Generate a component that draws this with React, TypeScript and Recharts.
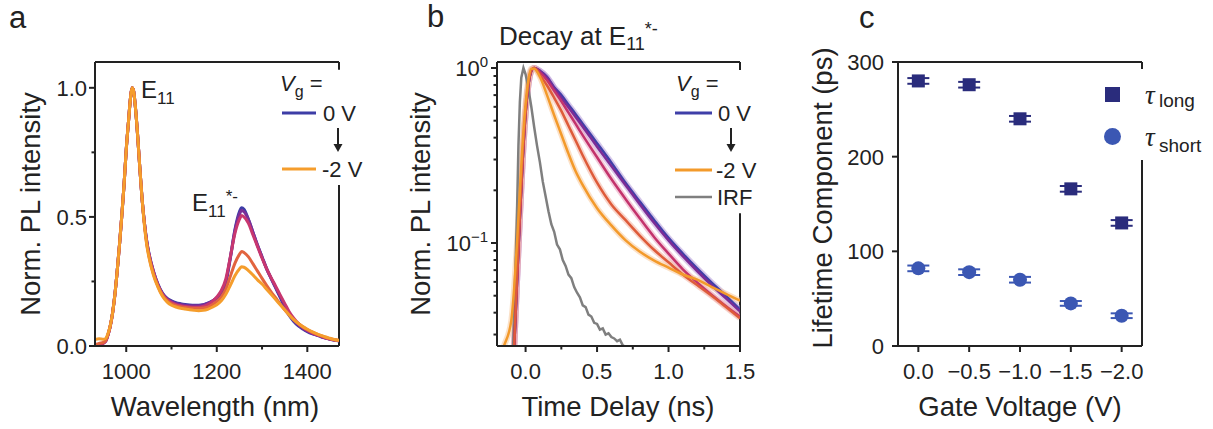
import React from 'react';
import {
  LineChart, Line, XAxis, YAxis, ReferenceLine,
  ScatterChart, Scatter, ErrorBar,
} from 'recharts';

const FONT = '"Liberation Sans", Arial, Helvetica, sans-serif';
const SERIF = '"Liberation Serif", "DejaVu Serif", serif';
const INK = '#222';

/* ---------- panel a: PL spectra ---------- */
const wavelength = [
  930, 940, 950, 955, 960, 965, 970, 975, 980, 985, 990, 995, 1000, 1005, 1010, 1013, 1016, 1020, 1025, 1030, 1035, 1040, 1045, 1050,
  1060, 1070, 1080, 1090, 1100, 1110, 1120, 1130, 1140, 1150, 1160, 1170, 1180, 1190, 1200, 1210, 1220, 1230, 1240,
  1250, 1255, 1260,
  1270, 1280, 1290, 1300, 1310, 1320, 1330, 1340, 1350, 1360, 1370, 1380, 1390, 1400, 1410, 1420, 1430, 1440, 1450, 1460, 1470,
];
const spec0V = [
  0.0, 0.004, 0.012, 0.02, 0.045, 0.08, 0.13, 0.2, 0.29, 0.39, 0.5, 0.62, 0.76, 0.87, 0.97, 1.0, 0.99, 0.93, 0.82, 0.69, 0.57, 0.48, 0.41, 0.36,
  0.29, 0.24, 0.205, 0.185, 0.175, 0.168, 0.164, 0.161, 0.159, 0.158, 0.158, 0.16, 0.166, 0.174, 0.185, 0.2, 0.245, 0.34, 0.45,
  0.52, 0.535, 0.53,
  0.49, 0.44, 0.39, 0.345, 0.3, 0.262, 0.225, 0.188, 0.15, 0.118, 0.095, 0.078, 0.066, 0.056, 0.048, 0.042, 0.036, 0.031, 0.026, 0.022, 0.019,
];
const specM05 = [
  0.0, 0.004, 0.012, 0.02, 0.045, 0.08, 0.13, 0.2, 0.29, 0.39, 0.5, 0.62, 0.76, 0.87, 0.97, 1.0, 0.99, 0.93, 0.82, 0.69, 0.57, 0.48, 0.41, 0.36,
  0.29, 0.238, 0.203, 0.183, 0.172, 0.165, 0.161, 0.158, 0.156, 0.156, 0.156, 0.159, 0.165, 0.174, 0.187, 0.21, 0.25, 0.345, 0.445,
  0.51, 0.525, 0.52,
  0.49, 0.44, 0.39, 0.345, 0.3, 0.262, 0.228, 0.193, 0.158, 0.125, 0.1, 0.082, 0.069, 0.058, 0.05, 0.043, 0.037, 0.031, 0.027, 0.023, 0.02,
];
const specM1 = [
  0.0, 0.003, 0.011, 0.02, 0.044, 0.079, 0.13, 0.2, 0.29, 0.39, 0.5, 0.62, 0.76, 0.87, 0.97, 1.0, 0.99, 0.93, 0.82, 0.69, 0.57, 0.48, 0.405, 0.355,
  0.285, 0.235, 0.2, 0.18, 0.168, 0.16, 0.156, 0.153, 0.151, 0.15, 0.15, 0.153, 0.16, 0.172, 0.19, 0.215, 0.26, 0.345, 0.435,
  0.49, 0.505, 0.5,
  0.475, 0.43, 0.385, 0.34, 0.3, 0.265, 0.232, 0.198, 0.165, 0.133, 0.108, 0.088, 0.073, 0.061, 0.052, 0.044, 0.038, 0.032, 0.027, 0.023, 0.02,
];
const specM15 = [
  0.005, 0.01, 0.014, 0.022, 0.046, 0.08, 0.13, 0.2, 0.29, 0.39, 0.5, 0.62, 0.76, 0.87, 0.97, 1.0, 0.99, 0.93, 0.82, 0.69, 0.57, 0.475, 0.4, 0.35,
  0.28, 0.232, 0.197, 0.176, 0.163, 0.156, 0.152, 0.149, 0.147, 0.146, 0.146, 0.147, 0.15, 0.16, 0.172, 0.19, 0.22, 0.27, 0.32,
  0.355, 0.366, 0.362,
  0.345, 0.318, 0.29, 0.262, 0.235, 0.21, 0.187, 0.163, 0.14, 0.12, 0.102, 0.087, 0.075, 0.064, 0.055, 0.047, 0.04, 0.034, 0.029, 0.024, 0.021,
];
const specM2 = [
  0.025, 0.028, 0.026, 0.03, 0.05, 0.082, 0.13, 0.2, 0.29, 0.39, 0.5, 0.62, 0.76, 0.87, 0.97, 1.0, 0.99, 0.93, 0.82, 0.69, 0.57, 0.47, 0.395, 0.345,
  0.275, 0.228, 0.193, 0.171, 0.158, 0.151, 0.146, 0.143, 0.14, 0.138, 0.137, 0.138, 0.142, 0.15, 0.16, 0.175, 0.2, 0.235, 0.272,
  0.298, 0.307, 0.305,
  0.292, 0.275, 0.256, 0.24, 0.22, 0.2, 0.18, 0.16, 0.14, 0.12, 0.102, 0.087, 0.075, 0.065, 0.056, 0.048, 0.041, 0.035, 0.03, 0.025, 0.022,
];

/* ---------- panel b: decay traces (fits) + IRF ---------- */
const tFit = [-0.2, -0.15, -0.1, -0.08, -0.06, -0.04, -0.02, 0, 0.02, 0.04, 0.06, 0.1, 0.15, 0.2, 0.25, 0.3, 0.35, 0.4, 0.5, 0.6, 0.7, 0.8, 0.9, 1.0, 1.1, 1.2, 1.3, 1.4, 1.5];
const decay0V = [0.01, 0.01, 0.012, 0.025, 0.06, 0.14, 0.3, 0.55, 0.8, 0.96, 1.0, 0.965, 0.89, 0.776, 0.7, 0.617, 0.545, 0.479, 0.372, 0.288, 0.22, 0.172, 0.135, 0.107, 0.087, 0.0716, 0.0596, 0.0501, 0.0417];
const decayM05 = [0.01, 0.01, 0.012, 0.025, 0.06, 0.14, 0.3, 0.55, 0.8, 0.96, 1.0, 0.962, 0.881, 0.767, 0.676, 0.596, 0.525, 0.462, 0.355, 0.275, 0.214, 0.166, 0.13, 0.1035, 0.0841, 0.0692, 0.0575, 0.0484, 0.0407];
const decayM1 = [0.01, 0.01, 0.012, 0.025, 0.06, 0.14, 0.3, 0.55, 0.8, 0.96, 1.0, 0.944, 0.851, 0.741, 0.646, 0.556, 0.479, 0.412, 0.309, 0.232, 0.178, 0.138, 0.108, 0.087, 0.0708, 0.0596, 0.0507, 0.0437, 0.038];
const decayM15 = [0.01, 0.01, 0.012, 0.026, 0.065, 0.15, 0.32, 0.57, 0.82, 0.97, 1.0, 0.912, 0.794, 0.676, 0.569, 0.468, 0.385, 0.316, 0.221, 0.166, 0.135, 0.11, 0.0912, 0.0776, 0.0661, 0.0575, 0.0501, 0.0432, 0.0372];
const decayM2 = [0.02, 0.026, 0.036, 0.055, 0.1, 0.2, 0.38, 0.62, 0.86, 0.99, 0.99, 0.891, 0.7, 0.537, 0.417, 0.324, 0.257, 0.214, 0.158, 0.126, 0.1035, 0.0891, 0.0794, 0.0724, 0.0661, 0.0617, 0.0562, 0.0513, 0.0468];
const tIrf = [
  -0.12, -0.1, -0.08, -0.06, -0.05, -0.04, -0.03, -0.015, 0, 0.02, 0.04, 0.06, 0.08, 0.1,
  0.12, 0.14, 0.16, 0.18, 0.2, 0.22, 0.24, 0.26, 0.28, 0.3, 0.32, 0.34, 0.36, 0.38, 0.4,
  0.42, 0.44, 0.46, 0.48, 0.5, 0.52, 0.54, 0.56, 0.58, 0.6, 0.62, 0.64, 0.66, 0.68, 0.7,
];
const irf = [
  0.005, 0.012, 0.04, 0.15, 0.36, 0.64, 0.88, 1.0, 0.92, 0.76, 0.6, 0.46, 0.36, 0.29,
  0.225, 0.185, 0.152, 0.128, 0.116, 0.098, 0.092, 0.08, 0.074, 0.066, 0.063, 0.056, 0.052, 0.049, 0.044,
  0.043, 0.039, 0.038, 0.035, 0.0345, 0.032, 0.0325, 0.03, 0.0305, 0.029, 0.0285, 0.0275, 0.028, 0.026, 0.0255,
];

/* ---------- panel c: lifetimes ---------- */
const gateVoltage = [0, -0.5, -1, -1.5, -2];
const tauLong = [280, 276, 240, 166, 130];
const tauLongErr = [3, 3, 3, 3, 3];
const tauShort = [82, 78, 70, 45, 32];
const tauShortErr = [3, 3, 3, 2.5, 2.5];

const SERIES_A = [
  { key: 'v0', color: '#3d3da6' },
  { key: 'v05', color: '#7a2e98' },
  { key: 'v1', color: '#c8376f' },
  { key: 'v15', color: '#e2643f' },
  { key: 'v2', color: '#f59d2c' },
];
const specRows = wavelength.map((w, i) => ({
  wl: w, v0: spec0V[i], v05: specM05[i], v1: specM1[i], v15: specM15[i], v2: specM2[i],
}));

const decaySeries = [
  { name: '0 V', vals: decay0V, color: '#3f3fa8', halo: '#b39ad8' },
  { name: '-0.5 V', vals: decayM05, color: '#7b2c96', halo: '#c39ad6' },
  { name: '-1 V', vals: decayM1, color: '#c3336c', halo: '#e9a0bc' },
  { name: '-1.5 V', vals: decayM15, color: '#de5b3a', halo: '#f3b09e' },
  { name: '-2 V', vals: decayM2, color: '#f39a2b', halo: '#f8c89a' },
];
const irfRows = tIrf.map((t, i) => ({ t, v: irf[i] }));

const longRows = gateVoltage.map((v, i) => ({ v, tau: tauLong[i], err: tauLongErr[i] }));
const shortRows = gateVoltage.map((v, i) => ({ v, tau: tauShort[i], err: tauShortErr[i] }));
const LONG_C = '#2a2c7c';
const SHORT_C = '#3b57b3';

const near = (list: number[], v: number) => list.some((m) => Math.abs(m - v) < 1e-9);

// tick renderer: draws its own tick line (long for major, short for minor) and a label for majors
const tickFactory = (side: 'left' | 'bottom', major: number[], fmt: (v: number) => React.ReactNode, gap: number) =>
  (p: any) => {
    const v = Number(p.payload.value);
    const isMajor = near(major, v);
    const len = isMajor ? 6 : 3.5;
    if (side === 'left') {
      return (
        <g>
          <line x1={p.x} x2={p.x - len} y1={p.y} y2={p.y} stroke={INK} strokeWidth={2} />
          {isMajor && (
            <text x={p.x - gap} y={p.y} dy={8} textAnchor="end" fontSize={22} fontFamily={FONT} fill={INK}>
              {fmt(v)}
            </text>
          )}
        </g>
      );
    }
    return (
      <g>
        <line x1={p.x} x2={p.x} y1={p.y} y2={p.y + len} stroke={INK} strokeWidth={2} />
        {isMajor && (
          <text x={p.x} y={p.y + 33} textAnchor="middle" fontSize={22} fontFamily={FONT} fill={INK}>
            {fmt(v)}
          </text>
        )}
      </g>
    );
  };

const minus = (s: string) => s.replace('-', '\u2212');
const logLabel = (v: number) => (
  <>
    <tspan>10</tspan>
    <tspan dy={-9} fontSize={15}>{v >= 1 ? '0' : '\u22121'}</tspan>
  </>
);

const axisLine = { stroke: INK, strokeWidth: 2 };

function PanelA() {
  return (
    <LineChart width={400} height={429} data={specRows} margin={{ top: 62, right: 61, bottom: 0, left: 0 }}>
      <XAxis
        dataKey="wl" type="number" domain={[931, 1470]} allowDataOverflow
        ticks={[1000, 1100, 1200, 1300, 1400]} interval={0} height={83}
        tickSize={0} tickMargin={0} tickLine={false} axisLine={axisLine}
        tick={tickFactory('bottom', [1000, 1200, 1400], (v) => String(v), 0)}
      />
      <YAxis
        type="number" domain={[0, 1.1]} allowDataOverflow
        ticks={[0, 0.25, 0.5, 0.75, 1]} interval={0} width={95}
        tickSize={0} tickMargin={0} tickLine={false} axisLine={axisLine}
        tick={tickFactory('left', [0, 0.5, 1], (v) => v.toFixed(1), 8)}
      />
      <ReferenceLine y={1.1} stroke={INK} strokeWidth={2} />
      <ReferenceLine segment={[{ x: 1470, y: 0 }, { x: 1470, y: 0.624 }]} stroke={INK} strokeWidth={2} />
      <ReferenceLine segment={[{ x: 1470, y: 1.07 }, { x: 1470, y: 1.1 }]} stroke={INK} strokeWidth={2} />
      {SERIES_A.map((s) => (
        <Line key={s.key} dataKey={s.key} type="monotone" stroke={s.color} strokeWidth={3}
          dot={false} isAnimationActive={false} />
      ))}
    </LineChart>
  );
}

function PanelB() {
  return (
    <LineChart width={400} height={429} margin={{ top: 62, right: 60, bottom: 0, left: 0 }}>
      <XAxis
        dataKey="t" type="number" domain={[-0.2, 1.5]} allowDataOverflow
        ticks={[0, 0.25, 0.5, 0.75, 1, 1.25, 1.5]} interval={0} height={83}
        tickSize={0} tickMargin={0} tickLine={false} axisLine={axisLine}
        tick={tickFactory('bottom', [0, 0.5, 1, 1.5], (v) => v.toFixed(1), 0)}
      />
      <YAxis
        dataKey="v" type="number" scale="log" domain={[0.0258, 1.082]} allowDataOverflow
        ticks={[0.03, 0.04, 0.05, 0.06, 0.07, 0.08, 0.09, 0.1, 0.2, 0.3, 0.4, 0.5, 0.6, 0.7, 0.8, 0.9, 1]}
        interval={0} width={97}
        tickSize={0} tickMargin={0} tickLine={false} axisLine={axisLine}
        tick={tickFactory('left', [0.1, 1], logLabel, 9)}
      />
      <ReferenceLine y={1.082} stroke={INK} strokeWidth={2} />
      <ReferenceLine segment={[{ x: 1.5, y: 0.0258 }, { x: 1.5, y: 0.148 }]} stroke={INK} strokeWidth={2} />
      <ReferenceLine segment={[{ x: 1.5, y: 0.974 }, { x: 1.5, y: 1.082 }]} stroke={INK} strokeWidth={2} />
      {decaySeries.map((s) => (
        <Line key={'raw' + s.name} data={tFit.map((t, i) => ({ t, v: s.vals[i] }))} dataKey="v"
          type="monotone" stroke={s.halo} strokeOpacity={0.55} strokeWidth={6}
          dot={false} isAnimationActive={false} />
      ))}
      <Line data={irfRows} dataKey="v" type="linear" stroke="#7f7f7f" strokeWidth={2.5}
        dot={false} isAnimationActive={false} />
      {decaySeries.map((s) => (
        <Line key={s.name} data={tFit.map((t, i) => ({ t, v: s.vals[i] }))} dataKey="v"
          type="monotone" stroke={s.color} strokeWidth={2.5}
          dot={false} isAnimationActive={false} />
      ))}
    </LineChart>
  );
}

const squareShape = (p: any) => <rect x={p.cx - 6.5} y={p.cy - 6.5} width={13} height={13} fill={LONG_C} />;
const circleShape = (p: any) => <circle cx={p.cx} cy={p.cy} r={7} fill={SHORT_C} />;

function PanelC() {
  return (
    <ScatterChart width={413} height={429} margin={{ top: 62, right: 71, bottom: 0, left: 0 }}>
      <XAxis
        dataKey="v" type="number" domain={[-2.2, 0.2]} reversed allowDataOverflow
        ticks={gateVoltage} interval={0} height={83}
        tickSize={0} tickMargin={0} tickLine={false} axisLine={axisLine}
        tick={tickFactory('bottom', gateVoltage, (v) => minus(Math.abs(v) < 1e-9 ? '0.0' : v.toFixed(1)), 0)}
      />
      <YAxis
        dataKey="tau" type="number" domain={[0, 300]} allowDataOverflow
        ticks={[0, 100, 200, 300]} interval={0} width={98}
        tickSize={0} tickMargin={0} tickLine={false} axisLine={axisLine}
        tick={tickFactory('left', [0, 100, 200, 300], (v) => String(v), 14)}
      />
      <ReferenceLine y={300} stroke={INK} strokeWidth={2} />
      <ReferenceLine segment={[{ x: -2.2, y: 0 }, { x: -2.2, y: 196.5 }]} stroke={INK} strokeWidth={2} />
      <ReferenceLine segment={[{ x: -2.2, y: 292.6 }, { x: -2.2, y: 300 }]} stroke={INK} strokeWidth={2} />
      <Scatter data={longRows} shape={squareShape} isAnimationActive={false}>
        <ErrorBar dataKey="err" direction="y" width={11} strokeWidth={2} stroke={LONG_C} />
      </Scatter>
      <Scatter data={shortRows} shape={circleShape} isAnimationActive={false}>
        <ErrorBar dataKey="err" direction="y" width={11} strokeWidth={2} stroke={SHORT_C} />
      </Scatter>
    </ScatterChart>
  );
}

function Overlay() {
  const t = { fontFamily: FONT, fill: INK } as const;
  return (
    <svg width={1213} height={429} style={{ position: 'absolute', left: 0, top: 0, pointerEvents: 'none' }}>
      {/* panel letters */}
      <text x={9} y={28} fontSize={31} {...t}>a</text>
      <text x={427} y={27} fontSize={31} {...t}>b</text>
      <text x={859} y={28} fontSize={31} {...t}>c</text>

      {/* axis titles */}
      <text transform="translate(40,204) rotate(-90)" textAnchor="middle" fontSize={27.5} {...t}>Norm. PL intensity</text>
      <text x={215} y={416} textAnchor="middle" fontSize={27.5} {...t}>Wavelength (nm)</text>
      <text transform="translate(430,204) rotate(-90)" textAnchor="middle" fontSize={27.5} {...t}>Norm. PL intensity</text>
      <text x={618} y={416} textAnchor="middle" fontSize={27.5} {...t}>Time Delay (ns)</text>
      <text transform="translate(832,198) rotate(-90)" textAnchor="middle" fontSize={27.5} {...t}>Lifetime Component (ps)</text>
      <text x={1020} y={416} textAnchor="middle" fontSize={27.5} {...t}>Gate Voltage (V)</text>

      {/* panel a annotations */}
      <text x={141} y={98} fontSize={24} {...t}>E<tspan fontSize={17} dy={6}>11</tspan></text>
      <text x={192} y={211} fontSize={24} {...t}>E<tspan fontSize={17} dy={6}>11</tspan><tspan fontSize={17} dy={-15}>*-</tspan></text>
      <text x={280} y={91} fontSize={22} {...t}><tspan fontStyle="italic">V</tspan><tspan fontSize={16} dy={6}>g</tspan><tspan dy={-6}> =</tspan></text>
      <line x1={282} x2={316} y1={113} y2={113} stroke="#3d3da6" strokeWidth={3} />
      <text x={323} y={121} fontSize={22} {...t}>0 V</text>
      <line x1={338} x2={338} y1={128} y2={145} stroke={INK} strokeWidth={2} />
      <path d="M333.5,144 L342.5,144 L338,152 Z" fill={INK} />
      <line x1={282} x2={316} y1={169} y2={169} stroke="#f59d2c" strokeWidth={3} />
      <text x={322} y={177} fontSize={22} {...t}>-2 V</text>

      {/* panel b annotations */}
      <text x={499} y={45} fontSize={26} {...t}>Decay at E<tspan fontSize={18} dy={5}>11</tspan><tspan fontSize={18} dy={-15}>*-</tspan></text>
      <text x={676} y={91} fontSize={22} {...t}><tspan fontStyle="italic">V</tspan><tspan fontSize={16} dy={6}>g</tspan><tspan dy={-6}> =</tspan></text>
      <line x1={675} x2={712} y1={113} y2={113} stroke="#3f3fa8" strokeWidth={3} />
      <text x={718} y={121} fontSize={22} {...t}>0 V</text>
      <line x1={731} x2={731} y1={128} y2={145} stroke={INK} strokeWidth={2} />
      <path d="M726.5,144 L735.5,144 L731,152 Z" fill={INK} />
      <line x1={675} x2={712} y1={170} y2={170} stroke="#f39a2b" strokeWidth={3} />
      <text x={716} y={178} fontSize={22} {...t}>-2 V</text>
      <line x1={675} x2={712} y1={197} y2={197} stroke="#7f7f7f" strokeWidth={2.5} />
      <text x={717} y={205} fontSize={22} {...t}>IRF</text>

      {/* panel c legend */}
      <rect x={1105} y={87} width={15} height={15} fill={LONG_C} />
      <text x={1145} y={104} fontSize={27} fontStyle="italic" fontFamily={SERIF} fill={INK}>τ</text>
      <text x={1159} y={107} fontSize={19} {...t}>long</text>
      <circle cx={1112.5} cy={136.5} r={8.5} fill={SHORT_C} />
      <text x={1145} y={146} fontSize={27} fontStyle="italic" fontFamily={SERIF} fill={INK}>τ</text>
      <text x={1159} y={152} fontSize={19} {...t}>short</text>
    </svg>
  );
}

export default function App() {
  return (
    <div style={{ position: 'relative', width: 1213, height: 429, background: '#fff', fontFamily: FONT }}>
      <style>{'body{margin:0}'}</style>
      <div style={{ position: 'absolute', left: 0, top: 0 }}><PanelA /></div>
      <div style={{ position: 'absolute', left: 400, top: 0 }}><PanelB /></div>
      <div style={{ position: 'absolute', left: 800, top: 0 }}><PanelC /></div>
      <Overlay />
    </div>
  );
}
